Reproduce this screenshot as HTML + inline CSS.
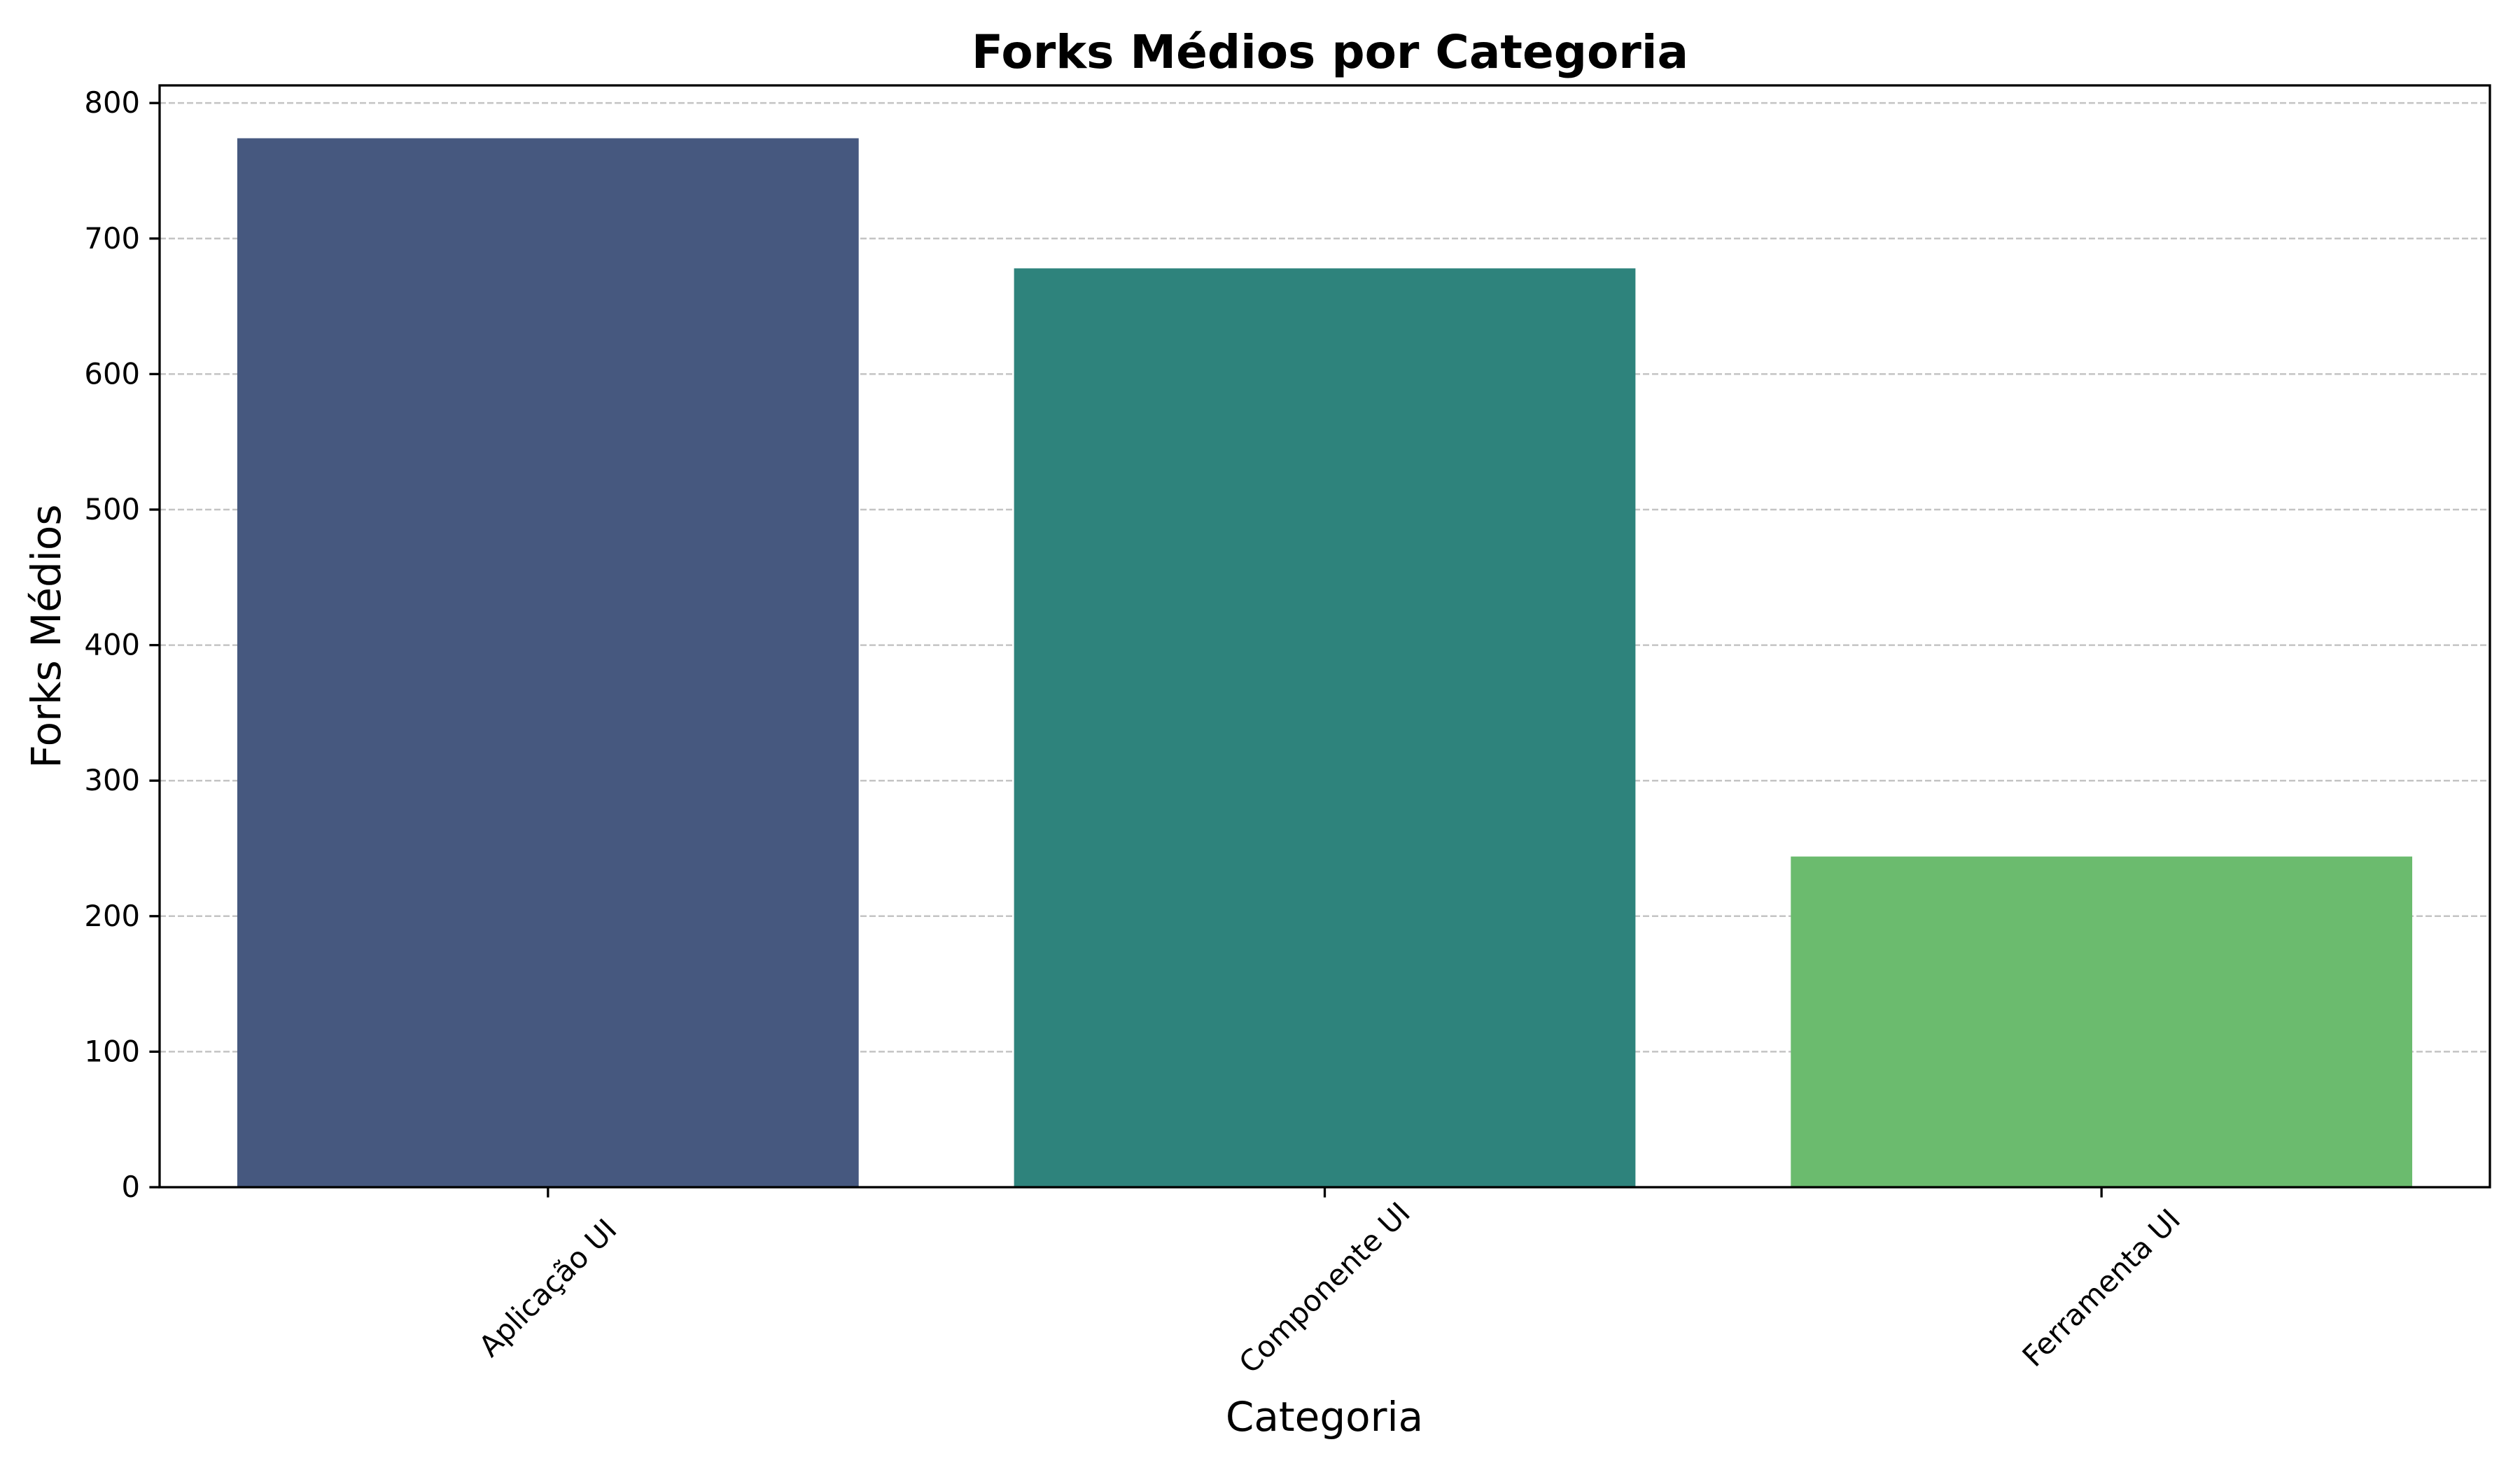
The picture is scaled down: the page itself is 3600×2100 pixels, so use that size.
<!DOCTYPE html>
<html><head><meta charset="utf-8"><style>
html,body{margin:0;padding:0;background:#fff;}
svg{display:block;font-family:"DejaVu Sans","Liberation Sans",sans-serif;}
</style></head><body>
<svg id="chart" width="3600" height="2100" viewBox="0 0 3600 2100">
<rect width="3600" height="2100" fill="#fff"/>
<text x="1900" y="97" font-size="66" font-weight="bold" text-anchor="middle">Forks Médios por Categoria</text>
<g id="grid"></g>
<g id="bars"></g>
<g id="yaxis"></g>
<g id="xaxis"></g>
<rect x="228" y="122" width="3329" height="1574" fill="none" stroke="#000" stroke-width="3.3"/>
<text transform="translate(86,909) rotate(-90)" font-size="58" text-anchor="middle">Forks Médios</text>
<text x="1892" y="2044" font-size="58" text-anchor="middle">Categoria</text>
</svg>
<script>
const categories = ["Aplicação UI", "Componente UI", "Ferramenta UI"];
const values = [774, 678, 244];
const colors = ["#46587f", "#2e837c", "#6bbb6e"];
const yTicks = [0, 100, 200, 300, 400, 500, 600, 700, 800];

const NS = "http://www.w3.org/2000/svg";
const L = 228, R = 3557, T = 122, B = 1696;
const yMax = 813;
function y(v){ return B - v / yMax * (B - T); }
function x(i){ return L + (i + 0.5) / categories.length * (R - L); }
const band = (R - L) / categories.length;
function mk(tag, attrs, parent){ const e = document.createElementNS(NS, tag); for (const k in attrs) e.setAttribute(k, attrs[k]); parent.appendChild(e); return e; }

const grid = document.getElementById('grid'), bars = document.getElementById('bars');
const ya = document.getElementById('yaxis'), xa = document.getElementById('xaxis');

yTicks.forEach(t => {
  const g = mk('line', {x1: L, x2: R, y1: y(t), y2: y(t), stroke: '#c4c4c4', 'stroke-width': 2.5, 'stroke-dasharray': '9,4'}, grid);
  
  
  const tk = mk('line', {x1: L - 14.6, x2: L, y1: y(t), y2: y(t), stroke: '#000', 'stroke-width': 3.3}, ya);
  
  
  const lb = mk('text', {x: L - 28, y: y(t) + 14, 'font-size': 41.7, 'text-anchor': 'end'}, ya);
  lb.textContent = t;
  
  
});

categories.forEach((c, i) => {
  const w = band * 0.8;
  const b = mk('rect', {x: x(i) - w / 2, y: y(values[i]), width: w, height: B - y(values[i]), fill: colors[i]}, bars);
  
  
  const tk = mk('line', {x1: x(i), x2: x(i), y1: B, y2: B + 14.6, stroke: '#000', 'stroke-width': 3.3}, xa);
  
  
  const cy = 1840;
  const lb = mk('text', {x: x(i), y: cy + 14, 'font-size': 41.7, 'text-anchor': 'middle', transform: 'rotate(-45 ' + x(i) + ' ' + cy + ')'}, xa);
  lb.textContent = c;
  
  
});
</script>
</body></html>
